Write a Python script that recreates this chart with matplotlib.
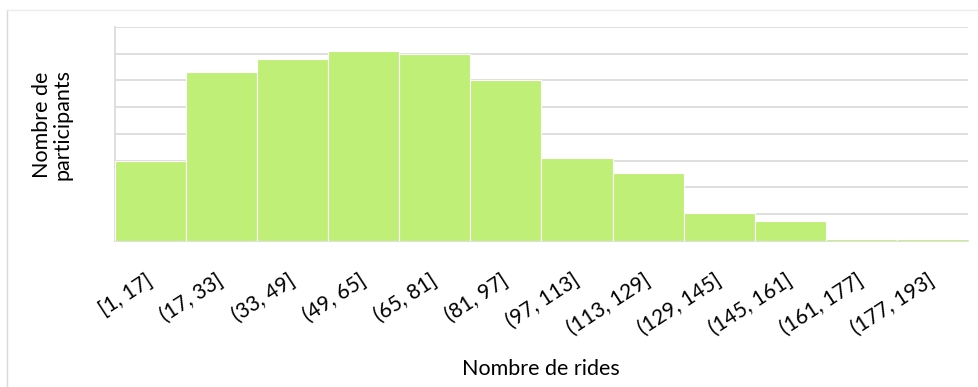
import matplotlib
matplotlib.use("Agg")
import matplotlib.pyplot as plt
from matplotlib.lines import Line2D

# bins of the ride count histogram
bins = ["[1, 17]", "(17, 33]", "(33, 49]", "(49, 65]", "(65, 81]", "(81, 97]",
        "(97, 113]", "(113, 129]", "(129, 145]", "(145, 161]", "(161, 177]",
        "(177, 193]"]
participants = [30, 63, 68, 71, 70, 60, 31, 25.5, 10.6, 7.6, 0.8, 0.8]

plt.rcParams['font.family'] = ['Lato', 'DejaVu Sans']

fig = plt.figure(figsize=(9.79, 3.87), dpi=100)
ax = fig.add_axes([115 / 979, 1 - 241 / 387, (968 - 115) / 979, (241 - 27) / 387])

x = list(range(len(bins)))
ax.bar(x, participants, width=1.0, color="#C0EF78", edgecolor="white",
       linewidth=0.8, zorder=3)

ax.set_xlim(-0.5, len(bins) - 0.5)
ax.set_ylim(0, 80)
ax.set_yticks(range(0, 81, 10))
ax.set_yticklabels([])
ax.tick_params(axis='y', length=0)
ax.grid(axis='y', color="#D9D9D9", linewidth=1.2, zorder=0)
ax.set_axisbelow(True)
for s in ["top", "right"]:
    ax.spines[s].set_visible(False)
for s in ["left", "bottom"]:
    ax.spines[s].set_color("#D9D9D9")
    ax.spines[s].set_linewidth(1.2)
    ax.spines[s].set_zorder(1)

ax.set_xticks(x)
ax.set_xticklabels(bins, rotation=33, ha='right', va='center',
                   rotation_mode='anchor', fontsize=15, color="#000000")
ax.tick_params(axis='x', length=0, pad=27)

fig.text(541 / 979, 1 - 369 / 387, "Nombre de rides", ha='center', va='center',
         fontsize=15.5)
fig.text(52 / 979, 1 - 125 / 387, "Nombre de\nparticipants", ha='center',
         va='center', rotation=90, fontsize=15.5, linespacing=1.05)

# light frame of the chart area (left and top edges)
fig.add_artist(Line2D([7 / 979, 7 / 979], [0, 1 - 10 / 387], transform=fig.transFigure,
                      color="#D9D9D9", linewidth=1))
fig.add_artist(Line2D([7 / 979, 1], [1 - 10 / 387, 1 - 10 / 387], transform=fig.transFigure,
                      color="#EBEBEB", linewidth=1))

fig.savefig("out.png", dpi=100, facecolor="white")
